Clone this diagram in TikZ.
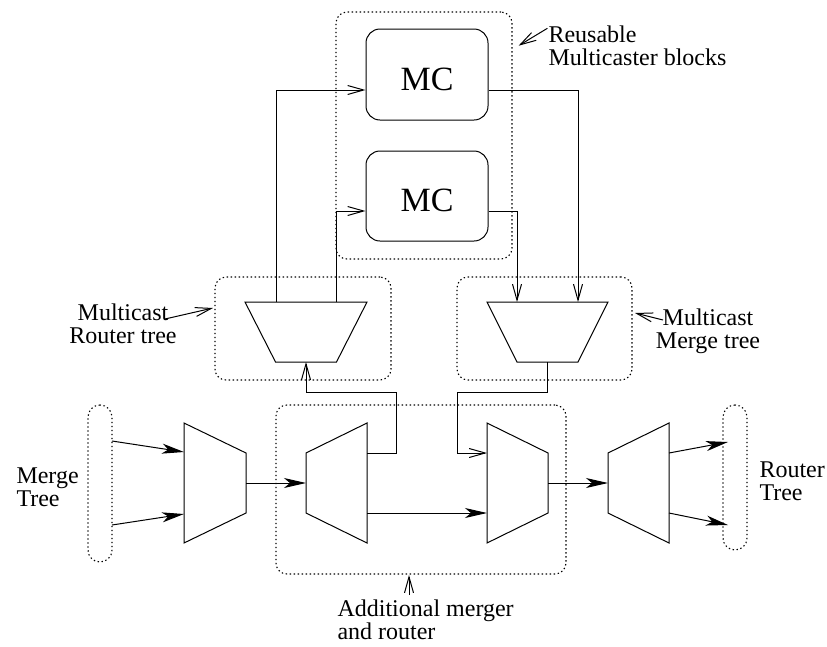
\documentclass[tikz,border=0pt]{standalone}
\usepackage{fontspec}
\setmainfont{Liberation Serif}
\usetikzlibrary{arrows.meta,calc}

% trapezoid outlines drawn over invisible frame nodes
\newcommand\drawMergeShape[1]{\draw (#1.north west) -- ($(#1.east)+(0,-30)$) -- ($(#1.east)+(0,30)$) -- (#1.south west) -- cycle;}
\newcommand\drawRouteShape[1]{\draw ($(#1.west)+(0,-30)$) -- (#1.north east) -- (#1.south east) -- ($(#1.west)+(0,30)$) -- cycle;}
\newcommand\drawFunnelShape[1]{\draw (#1.north west) -- (#1.north east) -- ($(#1.south)+(30.5,0)$) -- ($(#1.south)+(-30.5,0)$) -- cycle;}

\begin{document}
\begin{tikzpicture}[x=1pt,y=-1pt,line width=1pt,
  open/.style={-{Straight Barb[length=16pt,width=9pt]}},
  bigarrow/.style={-{Stealth[length=22pt,width=10pt,inset=6pt]}},
  group/.style={draw,line width=1.1pt,dash pattern=on 1.4pt off 2.6pt,rounded corners=11pt,inner sep=0,outer sep=0,minimum width=#1},
  mcbox/.style={draw,rounded corners=14pt,minimum width=122pt,minimum height=91pt,inner sep=0,
    text height=31.5pt,text depth=0pt,font=\fontsize{34}{34}\selectfont},
  frame/.style 2 args={inner sep=0,outer sep=0,minimum width=#1pt,minimum height=#2pt},
  lbl/.style={inner sep=0,align=left,font=\fontsize{24}{23}\selectfont},
  lblc/.style={inner sep=0,align=center,font=\fontsize{24}{23}\selectfont}]
\useasboundingbox (0,0) rectangle (827,646);

% groups (dotted)
\node[group=176pt,minimum height=247pt] (mcgroup) at (424,135.5) {};
\node[group=176pt,minimum height=103pt] (rtgroup) at (303,328.5) {};
\node[group=175pt,minimum height=103pt] (mtgroup) at (544.5,328.5) {};
\node[group=290pt,minimum height=169pt] (addgroup) at (421,489.5) {};
\node[group=24pt,minimum height=157pt,rounded corners=12pt] (mtree) at (100,483.5) {};
\node[group=24pt,minimum height=145pt,rounded corners=12pt] (rtree) at (735,477.5) {};

% multicaster blocks
\node[mcbox] (mc1) at (427,74.5) {MC};
\node[mcbox,minimum height=90pt] (mc2) at (427,196) {MC};

% trapezoids
\node[frame={122}{60}] (rt) at (306,332) {};
\node[frame={121}{60}] (mt) at (547.5,332) {};
\node[frame={62}{120}] (t1) at (215,483) {};
\node[frame={61}{120}] (t2) at (336.5,483) {};
\node[frame={61}{120}] (t3) at (517.5,483) {};
\node[frame={61}{120}] (t4) at (638.5,483) {};
\drawFunnelShape{rt}
\drawFunnelShape{mt}
\drawMergeShape{t1}
\drawRouteShape{t2}
\drawMergeShape{t3}
\drawRouteShape{t4}

% ports and bends
\coordinate (mc1in) at ($(mc1.west)+(0,15.5)$);
\coordinate (mc1out) at ($(mc1.east)+(0,15.5)$);
\coordinate (mc2in) at ($(mc2.west)+(0,15)$);
\coordinate (mc2out) at ($(mc2.east)+(0,15)$);
\coordinate (rtl) at ($(rt.north)+(-30,0)$);
\coordinate (rtr) at ($(rt.north)+(30,0)$);
\coordinate (mtl) at ($(mt.north)+(-30.5,0)$);
\coordinate (mtr) at ($(mt.north)+(30.5,0)$);
\coordinate (mtbend) at (457,392);
\coordinate (t2bend) at (396,392);
\coordinate (t2up) at ($(t2.east)+(0,-30)$);
\coordinate (t2low) at ($(t2.east)+(0,30)$);
\coordinate (t3up) at ($(t3.west)+(0,-30)$);
\coordinate (t3low) at ($(t3.west)+(0,30)$);
\coordinate (t1up) at ($(t1.west)+(0,-31)$);
\coordinate (t1low) at ($(t1.west)+(0,31)$);
\coordinate (t4up) at ($(t4.east)+(0,-30)$);
\coordinate (t4low) at ($(t4.east)+(0,30)$);
\coordinate (mtreeup) at (112,441);
\coordinate (mtreelow) at (112,525);
\coordinate (rtreeup) at (728,442);
\coordinate (rtreelow) at (728,525);

% connectors
\draw[open] (rtl) |- (mc1in);
\draw[open] (rtr) |- (mc2in);
\draw[open] (mc1out) -| (mtr);
\draw[open] (mc2out) -| (mtl);
\draw[open] (mt.south) |- (mtbend) |- (t3up);
\draw[open] (t2up) -| (t2bend) -| (rt.south);
\draw[bigarrow] (t2low) -- (t3low);
\draw[bigarrow] (t1.east) -- (t2.west);
\draw[bigarrow] (t3.east) -- (t4.west);
\draw[bigarrow] (mtreeup) -- (t1up);
\draw[bigarrow] (mtreelow) -- (t1low);
\draw[bigarrow] (t4up) -- (rtreeup);
\draw[bigarrow] (t4low) -- (rtreelow);

% labels (anchored on the baseline of their last line)
\node[lbl,anchor=base west] (reuse) at (548,65) {Reusable\\Multicaster blocks};
\node[lblc,anchor=base] (rtlabel) at (123,343) {Multicast\\Router tree};
\node[lblc,anchor=base] (mtlabel) at (708,348) {Multicast\\Merge tree};
\node[lbl,anchor=base west] (mtreelabel) at (16,506) {Merge\\Tree};
\node[lbl,anchor=base west] (rtreelabel) at (759,500) {Router\\Tree};
\node[lbl,anchor=base west] (addlabel) at (337,639) {Additional merger\\and router};

\coordinate (reusetail) at (547.4,28.3);
\coordinate (reusetip) at (518.6,45.7);
\coordinate (rttail) at (165,319);
\coordinate (rttip) at (213,308);
\coordinate (mttail) at (663,320);
\coordinate (mttip) at (635,313);
\coordinate (addtail) at (409,595);
\coordinate (addtip) at (409,575);
\draw[open] (reusetail) -- (reusetip);
\draw[open] (rttail) -- (rttip);
\draw[open] (mttail) -- (mttip);
\draw[open] (addtail) -- (addtip);
\end{tikzpicture}
\end{document}
